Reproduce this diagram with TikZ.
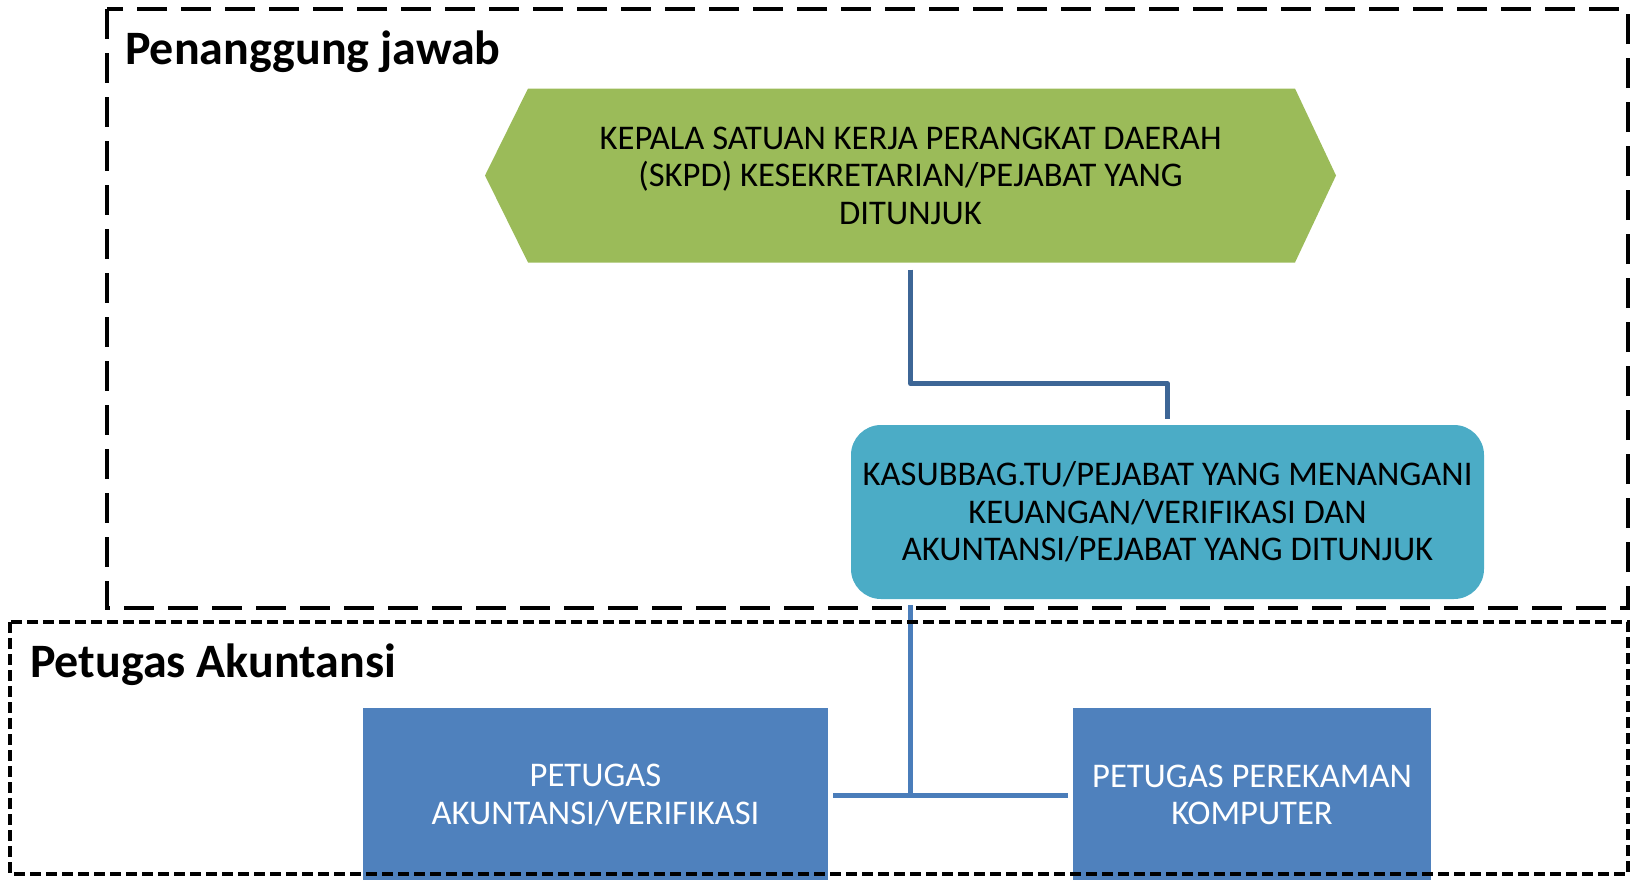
\documentclass[tikz,border=0pt]{standalone}
\usepackage{fontspec}
\setmainfont{Carlito}
\definecolor{hexgreen}{HTML}{9BBB59}
\definecolor{boxcyan}{HTML}{4BACC6}
\definecolor{boxblue}{HTML}{4F81BD}
\definecolor{linkdark}{HTML}{3D6696}
\definecolor{linkblue}{HTML}{4A7DBA}
\begin{document}
\begin{tikzpicture}[x=1pt,y=-1pt,
  boxtext/.style={inner sep=0pt, align=center, font=\fontsize{34.6}{37.5}\selectfont},
  hexbox/.style={boxtext, minimum width=851pt, minimum height=174pt,
    path picture={\fill[hexgreen] (path picture bounding box.west)
      -- ([xshift=43pt]path picture bounding box.north west)
      -- ([xshift=-41pt]path picture bounding box.north east)
      -- (path picture bounding box.east)
      -- ([xshift=-41pt]path picture bounding box.south east)
      -- ([xshift=43pt]path picture bounding box.south west) -- cycle;}},
  roundbox/.style={boxtext, fill=boxcyan, rounded corners=30pt, minimum width=633pt, minimum height=174pt},
  staffbox/.style={boxtext, fill=boxblue, text=white, minimum height=174pt},
  grouptitle/.style={anchor=base west, inner sep=0pt, font=\fontsize{48}{50}\bfseries\selectfont},
  linktop/.style={draw=linkdark, line width=5pt, line join=round},
  linkbottom/.style={draw=linkblue, line width=5pt},
  groupbig/.style={draw=black, line width=4pt, dash pattern=on 30pt off 14pt},
  groupsmall/.style={draw=black, line width=3.3pt, dash pattern=on 11pt off 5pt}]
\useasboundingbox (0,0) rectangle (1633,879);
\clip (0,0) rectangle (1633,879);

% boxes
\node[hexbox] (kepala) at (910.5,175.5)
  {KEPALA SATUAN KERJA PERANGKAT DAERAH\\(SKPD) KESEKRETARIAN/PEJABAT YANG\\DITUNJUK};
\node[roundbox] (kasub) at (1167.5,512)
  {KASUBBAG.TU/PEJABAT YANG MENANGANI\\KEUANGAN/VERIFIKASI DAN\\AKUNTANSI/PEJABAT YANG DITUNJUK};
\node[staffbox, minimum width=465pt] (petak) at (595.5,795) {PETUGAS\\AKUNTANSI/VERIFIKASI};
\node[staffbox, minimum width=358pt] (perek) at (1252,795) {PETUGAS PEREKAMAN\\KOMPUTER};

% connectors
\draw[linktop] ([yshift=-7pt]kepala.south) -- ++(0,114) -| ([yshift=6pt]kasub.north);
\coordinate (drop) at ([yshift=-6pt]kasub.south -| kepala.south);
\coordinate (tee) at (kepala.south |- petak.east);
\draw[linkbottom] (drop) -- (tee);
\draw[linkbottom] ([xshift=5pt]petak.east) -- ([xshift=-5pt]perek.west);

% group frames and titles
\draw[groupbig] (107,9) rectangle (1628,608);
\draw[groupsmall] (10,622) rectangle (1628,874);
\node[grouptitle] (t1) at (125,64) {Penanggung jawab};
\node[grouptitle] (t2) at (30,677) {Petugas Akuntansi};
\end{tikzpicture}
\end{document}
